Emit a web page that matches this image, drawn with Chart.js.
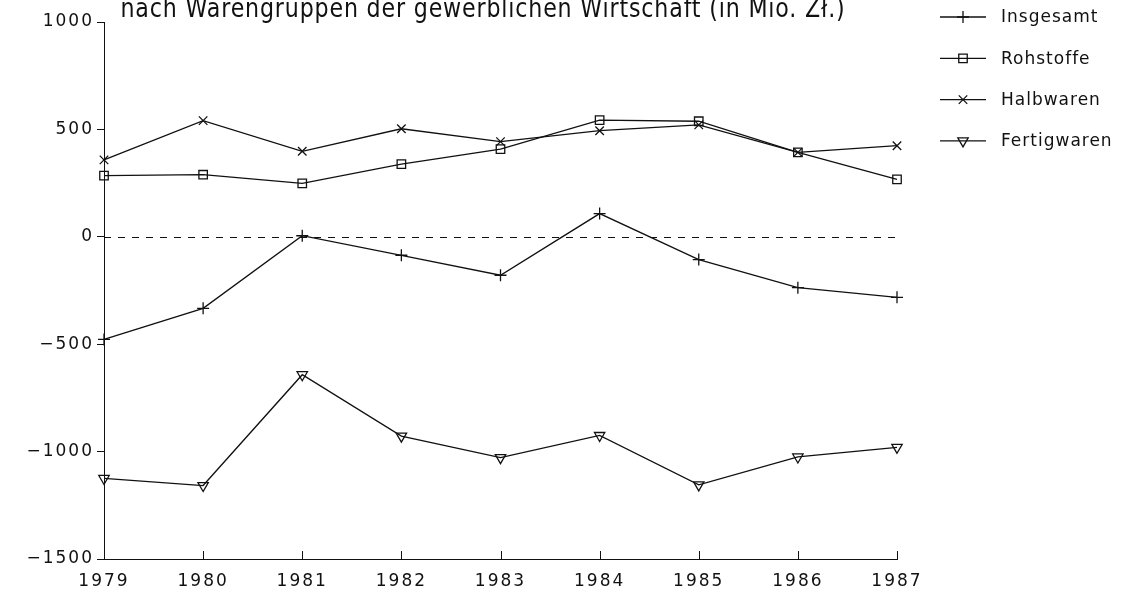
<!DOCTYPE html>
<html>
<head>
<meta charset="utf-8">
<script src="https://cdn.jsdelivr.net/npm/chart.js@4.4.1/dist/chart.umd.min.js"></script>
<style>
  html, body { margin:0; padding:0; background:#fff; }
  #wrap { width:1123px; height:597px; position:relative; }
</style>
</head>
<body>
<div id="wrap"><canvas id="c" width="1123" height="597"></canvas></div>
<script>
/* Außenhandelssaldo nach Warengruppen, 1979-1987 (Mio. Zł.) */
const TITLE = "nach Warengruppen der gewerblichen Wirtschaft (in Mio. Zł.)";
const YEARS = ["1979","1980","1981","1982","1983","1984","1985","1986","1987"];
const Y_TICKS = [1000, 500, 0, -500, -1000, -1500];

const insgesamt   = [-478, -333, 5, -86, -179, 108, -106, -237, -282];
const rohstoffe   = [285, 289, 249, 338, 408, 543, 538, 393, 267];
const halbwaren   = [358, 541, 398, 503, 443, 494, 521, 393, 424];
const fertigwaren = [-1125, -1158, -642, -928, -1028, -925, -1155, -1025, -980];

const INK = "#111";
const FONT = "DejaVu Sans";
const ds = (label, data, style, rot) => ({
  label, data, borderColor:INK, backgroundColor:"rgba(0,0,0,0)",
  borderWidth:1.3, pointStyle:style, pointRotation:rot||0, pointRadius:6,
  pointBorderColor:INK, pointBorderWidth:1.3, pointBackgroundColor:"rgba(0,0,0,0)",
  tension:0, fill:false
});

// letter spacing for the plotter-like lettering
const spacing = {
  id:"spacing",
  beforeUpdate(chart){ chart.ctx.letterSpacing = "2px"; },
  beforeDraw(chart){ chart.ctx.letterSpacing = "2px"; }
};

// dashed zero line, inward x ticks, title and legend
const extras = {
  id:"extras",
  afterDatasetsDraw(chart){
    const { ctx, chartArea:a, scales:{ x, y } } = chart;
    ctx.save();
    ctx.strokeStyle = INK; ctx.lineWidth = 1;
    // zero line
    const y0 = Math.round(y.getPixelForValue(0)) + 0.5;
    ctx.setLineDash([7, 7]);
    ctx.beginPath(); ctx.moveTo(a.left, y0); ctx.lineTo(a.right, y0); ctx.stroke();
    ctx.setLineDash([]);
    // x ticks pointing up
    x.ticks.forEach((t, i) => {
      const px = Math.round(x.getPixelForTick(i)) + 0.5;
      ctx.beginPath(); ctx.moveTo(px, a.bottom); ctx.lineTo(px, a.bottom - 8); ctx.stroke();
    });
    // title (top clipped like the scan), squeezed to the scan's width
    ctx.fillStyle = INK;
    ctx.letterSpacing = "1px";
    ctx.font = `27px "${FONT}"`;
    ctx.textAlign = "center"; ctx.textBaseline = "alphabetic";
    const w = ctx.measureText(TITLE).width;
    ctx.save();
    ctx.translate(483, 17);
    ctx.scale(725 / w, 1);
    ctx.fillText(TITLE, 0, 0);
    ctx.restore();
    // legend
    ctx.letterSpacing = "1px";
    ctx.font = `17px "${FONT}"`;
    ctx.textAlign = "left"; ctx.textBaseline = "middle";
    chart.data.datasets.forEach((d, i) => {
      const ly = 17 + i * 41.3;
      ctx.lineWidth = 1.3;
      ctx.beginPath(); ctx.moveTo(940, ly); ctx.lineTo(986, ly); ctx.stroke();
      ctx.fillStyle = "rgba(0,0,0,0)";
      Chart.helpers.drawPoint(ctx, { pointStyle:d.pointStyle, rotation:d.pointRotation, radius:6, borderWidth:1.3 }, 963, ly);
      ctx.fillStyle = INK;
      ctx.fillText(d.label, 1001, ly + 1);
    });
    ctx.restore();
  }
};

new Chart(document.getElementById("c"), {
  type:"line",
  data:{
    labels:YEARS,
    datasets:[
      ds("Insgesamt", insgesamt, "cross"),
      ds("Rohstoffe", rohstoffe, "rect"),
      ds("Halbwaren", halbwaren, "crossRot"),
      ds("Fertigwaren", fertigwaren, "triangle", 180)
    ]
  },
  options:{
    responsive:false, animation:false, maintainAspectRatio:false,
    layout:{ padding:{ top:22, right:226, left:0, bottom:0 } },
    plugins:{ legend:{ display:false }, tooltip:{ enabled:false }, title:{ display:false } },
    scales:{
      x:{
        offset:false,
        grid:{ display:false, drawOnChartArea:false },
        border:{ display:true, color:INK, width:1 },
        ticks:{ color:INK, padding:4, maxRotation:0, autoSkip:false, font:{ family:FONT, size:17 } },
        afterFit(s){ s.height = 38; }
      },
      y:{
        min:-1500, max:1000,
        afterBuildTicks(s){ s.ticks = Y_TICKS.map(v => ({ value:v })); },
        grid:{ drawOnChartArea:false, drawTicks:true, tickLength:7, color:INK, tickColor:INK },
        border:{ display:true, color:INK, width:1 },
        ticks:{ color:INK, padding:3, font:{ family:FONT, size:17 },
                callback:v => (v < 0 ? "\u2212" + Math.abs(v) : String(v)) },
        afterFit(s){ s.width = 104; }
      }
    }
  },
  plugins:[spacing, extras]
});
</script>
</body>
</html>
